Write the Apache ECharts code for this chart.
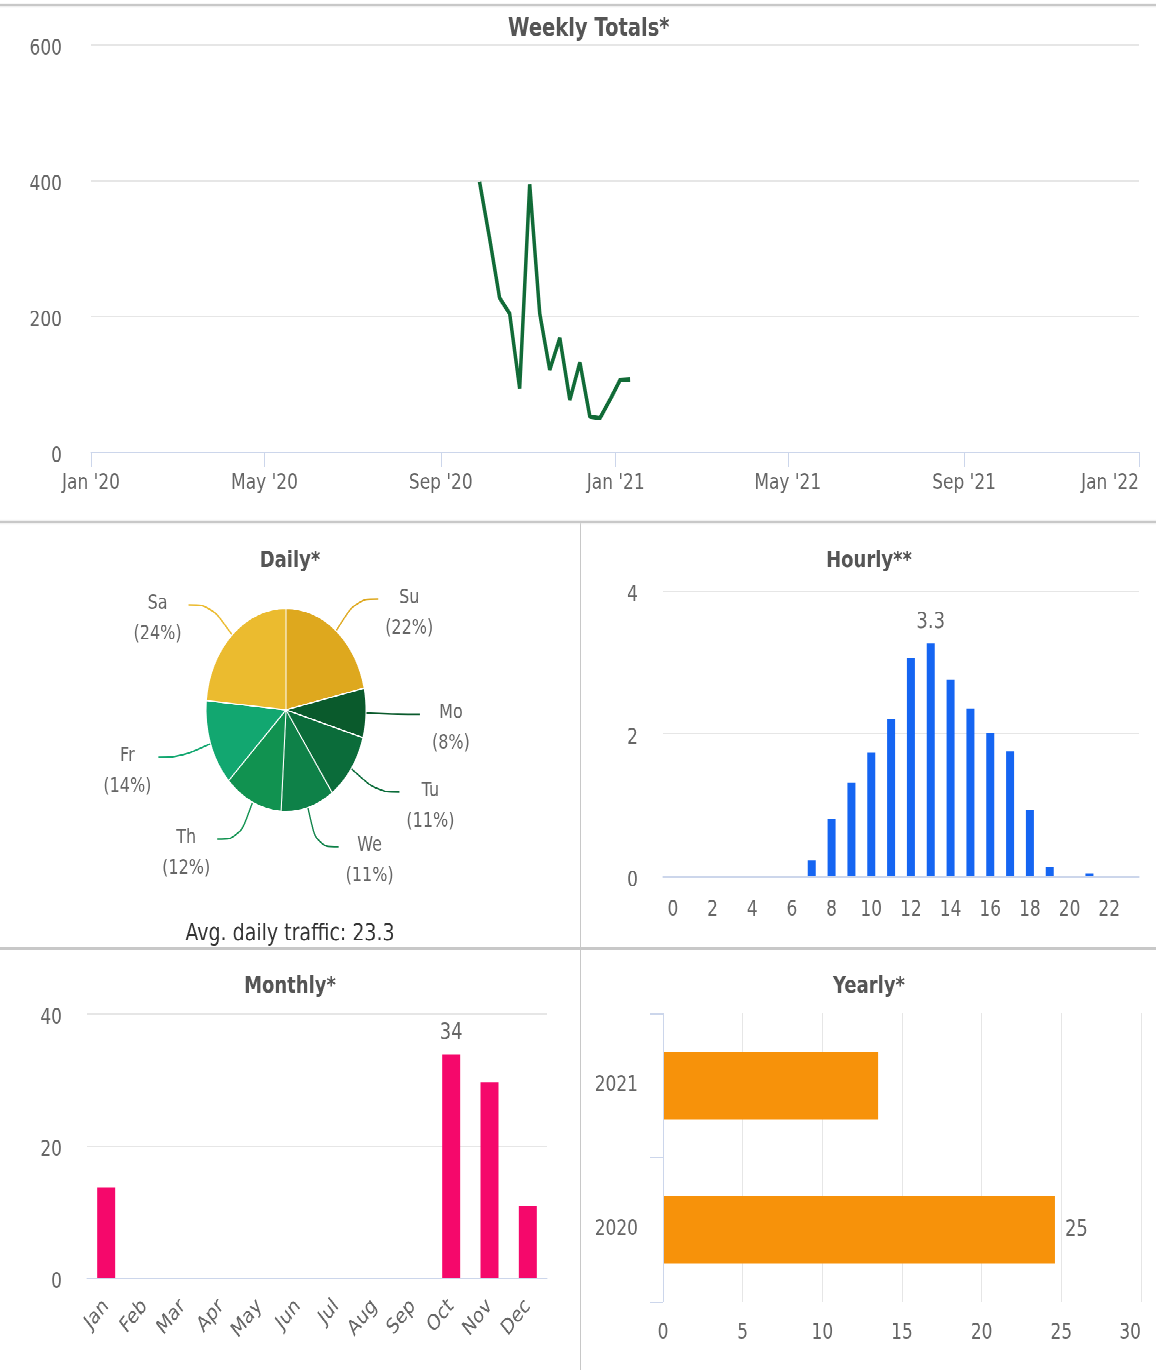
<!DOCTYPE html>
<html>
<head>
<meta charset="utf-8">
<title>Traffic</title>
<script src="https://cdn.jsdelivr.net/npm/echarts@6/dist/echarts.min.js"></script>
<style>
  html, body { margin: 0; padding: 0; background: #fff; }
  #page { width: 1156px; height: 1370px; overflow: hidden; }
  /* board is laid out flat, then stretched to the reference height */
  #board { position: relative; width: 1156px; height: 1079px; transform: scaleY(1.27); transform-origin: 0 0; }
  .chart { position: absolute; }
  .rule { position: absolute; background: #c8c8c8; }
</style>
</head>
<body>
<div id="page">
<div id="board">
  <div class="rule" style="left:0;top:3px;width:1156px;height:1.5px"></div>
  <div id="chartWeekly" class="chart" style="left:0;top:5px;width:1156px;height:405px"></div>
  <div class="rule" style="left:0;top:410px;width:1156px;height:2px"></div>
  <div id="chartDaily" class="chart" style="left:0;top:413px;width:580px;height:334px"></div>
  <div class="rule" style="left:580px;top:412px;width:1px;height:667px"></div>
  <div id="chartHourly" class="chart" style="left:582px;top:413px;width:574px;height:334px"></div>
  <div class="rule" style="left:0;top:746px;width:1156px;height:2px"></div>
  <div id="chartMonthly" class="chart" style="left:0;top:749px;width:580px;height:330px"></div>
  <div id="chartYearly" class="chart" style="left:582px;top:749px;width:574px;height:330px"></div>
</div>
</div>

<script>
    // weekly totals
    var weekDates = ['2020-09-28', '2020-10-05', '2020-10-12', '2020-10-19', '2020-10-26', '2020-11-02',
        '2020-11-09', '2020-11-16', '2020-11-23', '2020-11-30', '2020-12-07', '2020-12-14',
        '2020-12-21', '2020-12-28', '2021-01-04', '2021-01-11'];
    var weeklyTotals = [398, 315, 227, 204, 94, 394, 204, 121, 168, 77, 132, 52, 50, 77, 106, 107];
    var weekTicks = ['2020-01-01', '2020-05-01', '2020-09-01', '2021-01-01', '2021-05-01', '2021-09-01', '2022-01-01'];

    // share of traffic per weekday
    var days = ['Su', 'Mo', 'Tu', 'We', 'Th', 'Fr', 'Sa'];
    var dailyShare = [22, 8, 11, 11, 12, 14, 24];
    var dayColors = ['#dea81e', '#0a5a2c', '#0b6c3a', '#0e8148', '#119250', '#12a770', '#ebbb2f'];
    var avgDaily = 23.3;

    // average per hour of day
    var hours = ['0', '1', '2', '3', '4', '5', '6', '7', '8', '9', '10', '11',
        '12', '13', '14', '15', '16', '17', '18', '19', '20', '21', '22', '23'];
    var hourlyAvg = [0, 0, 0, 0, 0, 0, 0, 0.22, 0.81, 1.31, 1.73, 2.2,
        3.05, 3.26, 2.75, 2.35, 2.01, 1.75, 0.93, 0.13, 0, 0.04, 0, 0];

    var months = ['Jan', 'Feb', 'Mar', 'Apr', 'May', 'Jun', 'Jul', 'Aug', 'Sep', 'Oct', 'Nov', 'Dec'];
    var monthlyAvg = [13.6, 0, 0, 0, 0, 0, 0, 0, 0, 33.8, 29.6, 10.8];

    var years = ['2020', '2021'];
    var yearlyAvg = [24.6, 13.5];

    var font = 'DejaVu Sans';
    var labelGray = '#666';
    var axisBlue = '#ccd6eb';
    var gridGray = '#e6e6e6';

    function toTime(s) {
        var p = s.split('-');
        return new Date(+p[0], +p[1] - 1, +p[2]).getTime();
    }

    function titleOf(text, top, left, size) {
        return {
            text: text, left: left || 'center', top: top,
            textStyle: { fontFamily: font, fontSize: size || 18, fontWeight: 'bold', color: '#555' }
        };
    }

    function maxOnly(list, digits) {
        var max = Math.max.apply(null, list);
        return function (p) {
            return p.value === max ? p.value.toFixed(digits) : '';
        };
    }

    // y labels sit a little under their grid line
    function yLabel(margin) {
        return {
            margin: margin,
            formatter: '{v|{value}}',
            rich: { v: { color: labelGray, fontSize: 17, fontFamily: font, padding: [7, 0, 0, 0] } }
        };
    }

    function initChart(id) {
        return echarts.init(document.getElementById(id), null, { devicePixelRatio: 2 });
    }

    function drawWeekly() {
        var chart = initChart('chartWeekly');
        var ticks = weekTicks.map(toTime);
        chart.setOption({
            animation: false,
            textStyle: { fontFamily: font },
            title: titleOf('Weekly Totals*', 3, 503, 19.5),
            grid: { left: 91, right: 17, top: 30, bottom: 54, outerBoundsMode: 'none' },
            // timestamps on a plain value axis, ticks every four months
            xAxis: {
                type: 'value',
                min: ticks[0],
                max: ticks[ticks.length - 1],
                axisLine: { show: true, lineStyle: { color: axisBlue } },
                axisTick: { show: true, length: 12, customValues: ticks, lineStyle: { color: axisBlue } },
                axisLabel: {
                    customValues: ticks,
                    alignMaxLabel: 'right',
                    color: labelGray, fontSize: 17, margin: 16,
                    formatter: function (v) {
                        var d = new Date(v);
                        return months[d.getMonth()] + " '" + String(d.getFullYear()).slice(2);
                    }
                },
                splitLine: { show: false }
            },
            yAxis: {
                type: 'value', min: 0, max: 600, interval: 200,
                axisLine: { show: false },
                axisTick: { show: false },
                axisLabel: yLabel(29),
                splitLine: { lineStyle: { color: gridGray } }
            },
            series: [{
                type: 'line',
                data: weekDates.map(function (d, i) { return [toTime(d), weeklyTotals[i]]; }),
                symbol: 'none',
                lineStyle: { color: '#116b37', width: 3.5 },
                itemStyle: { color: '#116b37' }
            }]
        });
    }

    function drawDaily() {
        var chart = initChart('chartDaily');
        var total = dailyShare.reduce(function (a, b) { return a + b; }, 0);
        chart.setOption({
            animation: false,
            textStyle: { fontFamily: font },
            title: [
                titleOf('Daily*', 15),
                { text: 'Avg. daily traffic: ' + avgDaily, left: 'center', top: 308,
                  textStyle: { fontFamily: font, fontSize: 19, fontWeight: 'normal', color: '#333' } }
            ],
            series: [{
                type: 'pie',
                center: [286, 146],
                radius: 80,
                startAngle: 90,
                clockwise: true,
                color: dayColors,
                data: days.map(function (d, i) { return { name: d, value: dailyShare[i] }; }),
                itemStyle: { borderColor: '#fff', borderWidth: 1 },
                label: {
                    padding: [22, 0, 0, 0],
                    formatter: function (p) {
                        return '{n|' + p.name + '}\n{n|(' + Math.round(p.value / total * 100) + '%)}';
                    },
                    rich: { n: { width: 52, align: 'center', fontSize: 16, lineHeight: 24, color: labelGray, fontFamily: font } }
                },
                labelLine: { length: 32, length2: 22, smooth: 0.4, lineStyle: { width: 1.3 } }
            }]
        });
    }

    function drawHourly() {
        var chart = initChart('chartHourly');
        chart.setOption({
            animation: false,
            textStyle: { fontFamily: font },
            title: titleOf('Hourly**', 15),
            grid: { left: 81, right: 17, top: 52, bottom: 57, outerBoundsMode: 'none' },
            xAxis: {
                type: 'category', data: hours,
                axisLine: { lineStyle: { color: axisBlue } },
                axisTick: { alignWithLabel: true, interval: 1, length: 11, lineStyle: { color: axisBlue } },
                axisLabel: { interval: 1, color: labelGray, fontSize: 17, margin: 18 }
            },
            yAxis: {
                type: 'value', min: 0, max: 4, interval: 2,
                axisLine: { show: false },
                axisTick: { show: false },
                axisLabel: yLabel(25),
                splitLine: { lineStyle: { color: gridGray } }
            },
            series: [{
                type: 'bar', data: hourlyAvg, barWidth: 8,
                itemStyle: { color: '#1565f2' },
                label: { show: true, position: 'top', distance: 8, color: labelGray, fontSize: 18, formatter: maxOnly(hourlyAvg, 1) }
            }]
        });
    }

    function drawMonthly() {
        var chart = initChart('chartMonthly');
        chart.setOption({
            animation: false,
            textStyle: { fontFamily: font },
            title: titleOf('Monthly*', 14),
            grid: { left: 87, right: 33, top: 49, bottom: 73, outerBoundsMode: 'none' },
            xAxis: {
                type: 'category', data: months,
                axisLine: { lineStyle: { color: axisBlue } },
                axisTick: { length: 17, lineStyle: { color: axisBlue } },
                axisLabel: { rotate: 45, interval: 0, color: labelGray, fontSize: 17, margin: 20 }
            },
            yAxis: {
                type: 'value', min: 0, max: 40, interval: 20,
                axisLine: { show: false },
                axisTick: { show: false },
                axisLabel: yLabel(25),
                splitLine: { lineStyle: { color: gridGray } }
            },
            series: [{
                type: 'bar', data: monthlyAvg, barWidth: 18,
                itemStyle: { color: '#f5086b' },
                label: { show: true, position: 'top', distance: 8, color: labelGray, fontSize: 18, formatter: maxOnly(monthlyAvg, 0) }
            }]
        });
    }

    function drawYearly() {
        var chart = initChart('chartYearly');
        chart.setOption({
            animation: false,
            textStyle: { fontFamily: font },
            title: titleOf('Yearly*', 14),
            grid: { left: 81, right: 15, top: 49, bottom: 54, outerBoundsMode: 'none' },
            xAxis: {
                type: 'value', min: 0, max: 30, interval: 5,
                axisLine: { show: false },
                axisTick: { show: false },
                axisLabel: { color: labelGray, fontSize: 17, margin: 16, alignMaxLabel: 'right' },
                splitLine: { lineStyle: { color: gridGray } }
            },
            yAxis: {
                type: 'category', data: years,
                axisLine: { show: true, lineStyle: { color: axisBlue } },
                axisTick: { show: true, length: 13, lineStyle: { color: axisBlue } },
                axisLabel: { color: labelGray, fontSize: 17, margin: 25 },
                z: 3
            },
            series: [{
                type: 'bar', data: yearlyAvg, barWidth: 53,
                itemStyle: { color: '#f7920a' },
                label: { show: true, position: 'right', distance: 10, color: labelGray, fontSize: 18, formatter: maxOnly(yearlyAvg, 0) }
            }]
        });
    }

    drawWeekly();
    drawDaily();
    drawHourly();
    drawMonthly();
    drawYearly();
</script>
</body>
</html>
